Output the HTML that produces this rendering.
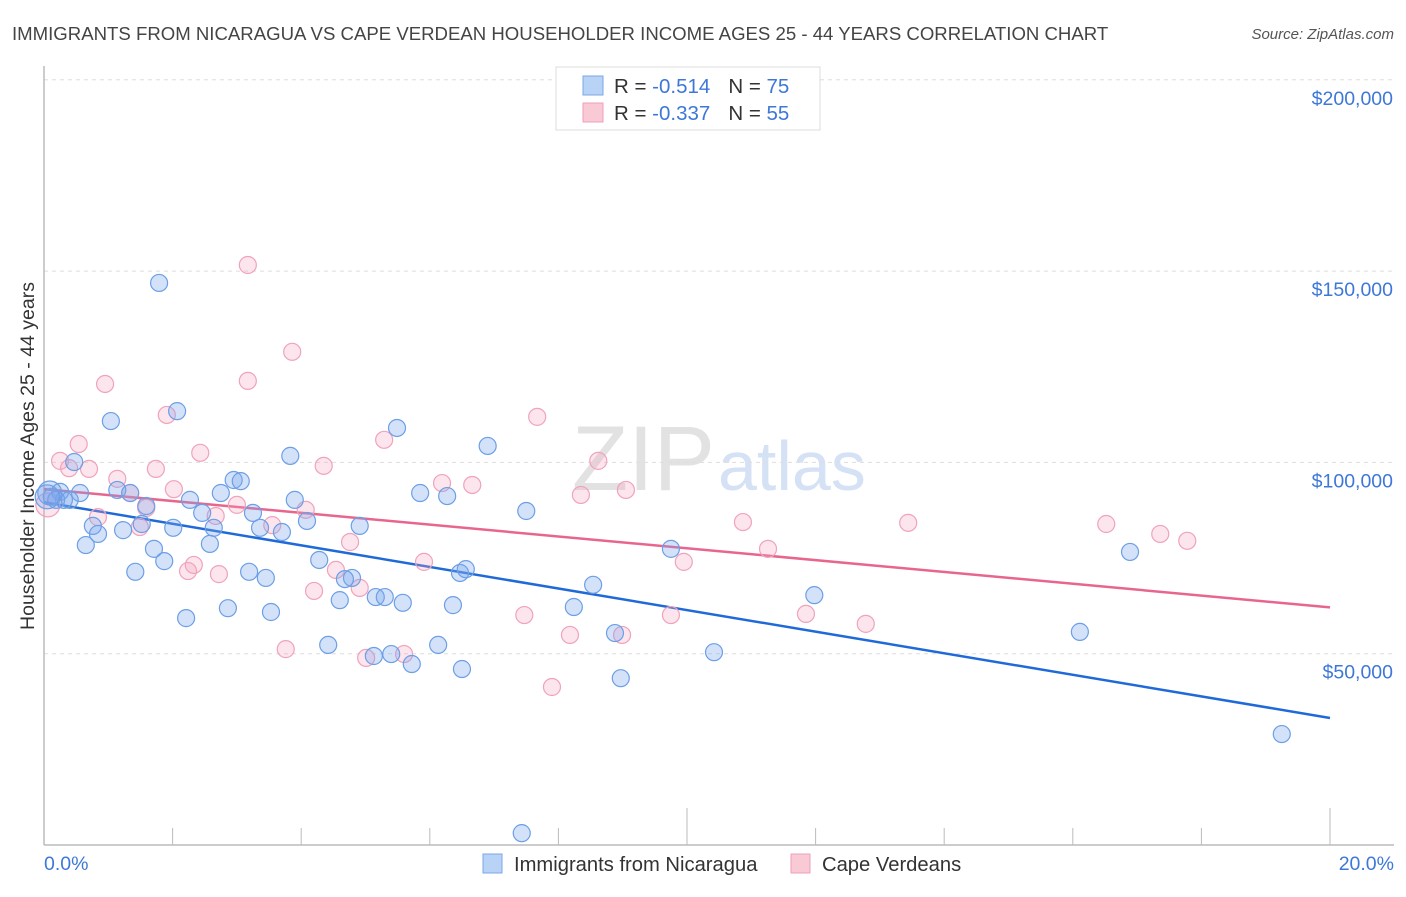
<!DOCTYPE html>
<html><head><meta charset="utf-8"><style>
body{margin:0;background:#fff;font-family:"Liberation Sans",sans-serif}
svg text{font-family:"Liberation Sans",sans-serif}
</style></head><body>
<svg id="chart" width="1406" height="892">
<text x="12" y="40" font-size="18.6" fill="#444">IMMIGRANTS FROM NICARAGUA VS CAPE VERDEAN HOUSEHOLDER INCOME AGES 25 - 44 YEARS CORRELATION CHART</text>
<text x="1394" y="39" font-size="15" fill="#555" font-style="italic" text-anchor="end">Source: ZipAtlas.com</text>
<text x="715" y="490" font-size="92" fill="#e2e2e2" font-family="Liberation Serif" text-anchor="end">ZIP</text>
<text x="718" y="490" font-size="70" fill="#d5e1f5">atlas</text>
<g id="grid"></g>
<g id="axes"></g>
<g id="trends"></g>
<g id="points"></g>
<text transform="translate(34,456) rotate(-90)" font-size="19.5" fill="#333" text-anchor="middle">Householder Income Ages 25 - 44 years</text>
<g>
<rect x="556" y="67" width="264" height="63" fill="#fff" stroke="#ddd"/>
<rect x="583" y="76" width="20" height="19" fill="#b8d3f5" stroke="#7aa7e6"/>
<rect x="583" y="103" width="20" height="19" fill="#f9c9d6" stroke="#eea0b6"/>
<text x="614" y="93" font-size="20.5" fill="#333">R = <tspan fill="#3d78d8">-0.514</tspan><tspan dx="18">N = </tspan><tspan fill="#3d78d8">75</tspan></text>
<text x="614" y="120" font-size="20.5" fill="#333">R = <tspan fill="#3d78d8">-0.337</tspan><tspan dx="18">N = </tspan><tspan fill="#3d78d8">55</tspan></text>
</g>
<g>
<rect x="483" y="854" width="19" height="19" fill="#b8d3f5" stroke="#7aa7e6"/>
<text x="514" y="871" font-size="20.2" fill="#333">Immigrants from Nicaragua</text>
<rect x="791" y="854" width="19" height="19" fill="#f9c9d6" stroke="#eea0b6"/>
<text x="822" y="871" font-size="20.2" fill="#333">Cape Verdeans</text>
</g>
</svg>
<script>
const yTicks=[50,100,150,200];
const yTickLabels=["$50,000","$100,000","$150,000","$200,000"];
const xTickLabels=["0.0%","20.0%"];
const blueX=[1.79,1.04,2.07,5.49,6.90,3.83,0.47,2.95,3.06,0.25,0.56,1.14,1.34,2.75,5.85,6.27,2.27,3.90,1.59,2.46,7.50,3.25,4.09,0.31,0.12,1.52,0.76,1.23,2.01,2.64,3.36,3.70,4.91,0.84,0.65,2.58,1.71,1.87,4.28,9.75,16.89,1.42,3.19,3.45,4.79,6.47,6.56,4.68,8.54,5.16,5.30,5.58,4.60,6.36,8.24,11.98,2.86,3.53,2.21,8.88,16.11,4.42,6.13,5.13,5.40,5.72,10.42,6.50,8.97,19.25,7.43,0.09,0.19,0.05,0.40];
const blueY=[146.9,110.8,113.4,109.0,104.3,101.7,100.1,95.4,95.1,92.3,92.0,92.8,92.0,92.0,92.0,91.2,90.2,90.2,88.6,86.8,87.3,86.8,84.7,90.2,91.0,83.9,83.4,82.3,82.9,82.9,82.9,81.8,83.4,81.3,78.4,78.7,77.4,74.2,74.5,77.4,76.6,71.4,71.4,69.8,69.8,71.1,72.1,69.5,68.0,64.8,64.8,63.3,64.0,62.7,62.2,65.3,61.9,60.9,59.3,55.4,55.7,52.3,52.3,49.4,49.9,47.3,50.4,46.0,43.6,29.0,3.1,92.0,90.2,91.0,90.2];
const pinkX=[3.17,3.86,0.95,3.17,7.67,1.91,0.54,5.29,2.43,0.25,0.70,0.39,1.74,4.35,8.62,1.14,6.19,6.66,2.02,9.05,8.35,1.34,3.00,1.59,4.07,3.55,10.87,13.44,16.52,17.36,17.78,0.84,2.67,1.49,4.76,11.26,9.95,5.91,2.24,2.33,2.72,4.54,4.91,4.20,7.47,9.75,11.85,12.78,8.18,8.99,3.76,5.01,5.60,7.90,0.06];
const pinkY=[151.6,128.9,120.5,121.3,111.9,112.4,104.8,105.9,102.5,100.4,98.3,98.5,98.3,99.1,100.4,95.7,94.6,94.1,93.0,92.8,91.5,92.0,88.9,88.1,87.6,83.6,84.4,84.2,83.9,81.3,79.5,85.7,86.0,83.1,79.2,77.4,74.0,74.0,71.6,73.2,70.8,71.9,67.2,66.4,60.1,60.1,60.4,57.8,54.9,54.9,51.2,48.9,49.9,41.3,88.9];
const blueTrend=[89.6,33.2];
const pinkTrend=[93.0,62.1];
const X0=44,X1=1330,YB=845,PPK=3.826;
const sx=v=>X0+(v/20)*(X1-X0);
const sy=v=>YB-v*PPK;
const NS="http://www.w3.org/2000/svg";
function mk(tag,attrs,parent){const e=document.createElementNS(NS,tag);for(const k in attrs)e.setAttribute(k,attrs[k]);document.getElementById(parent).appendChild(e);return e;}
yTicks.forEach((t,i)=>{
 const l=mk('line',{x1:X0,x2:1394,y1:sy(t),y2:sy(t),stroke:'#ddd','stroke-dasharray':'4,4'},'grid');
 
 
 const tx=mk('text',{x:1393,y:sy(t)+25,'font-size':19.5,fill:'#3d78d8','text-anchor':'end'},'grid');
 tx.textContent=yTickLabels[i];
 
 
});
const ax=mk('line',{x1:X0,x2:1394,y1:YB,y2:YB,stroke:'#bbb','stroke-width':1.5},'axes');


const ay=mk('line',{x1:X0,x2:X0,y1:66,y2:YB,stroke:'#bbb','stroke-width':1.5},'axes');


for(let i=1;i<=10;i++){
 const x=sx(i*2);
 const t=mk('line',{x1:x,x2:x,y1:(i%5===0)?808:828,y2:YB,stroke:'#bbb'},'axes');
 
 
}
[[X0,'start'],[1394,'end']].forEach((p,i)=>{
 const t=mk('text',{x:p[0],y:870,'font-size':19.5,fill:'#3d78d8','text-anchor':p[1]},'axes');
 t.textContent=xTickLabels[i];
 
 
});
function drawPts(xs,ys,fill,stroke,name){
 xs.forEach((x,i)=>{
  const big=(x<0.12);
  const c=mk('circle',{cx:sx(x),cy:sy(ys[i]),r:big?12:8.5,fill:fill,stroke:stroke,'stroke-width':1.2},'points');
  
  
 });
}
drawPts(pinkX,pinkY,'rgba(244,160,188,0.28)','#f0a3bb','cape-verdean-point');
drawPts(blueX,blueY,'rgba(120,165,235,0.32)','#6c9fe6','nicaragua-point');
const tb=mk('line',{x1:sx(0),y1:sy(blueTrend[0]),x2:sx(20),y2:sy(blueTrend[1]),stroke:'#1f6ad8','stroke-width':2.5},'trends');


const tp=mk('line',{x1:sx(0),y1:sy(pinkTrend[0]),x2:sx(20),y2:sy(pinkTrend[1]),stroke:'#e8668e','stroke-width':2.5},'trends');


</script>
</body></html>
